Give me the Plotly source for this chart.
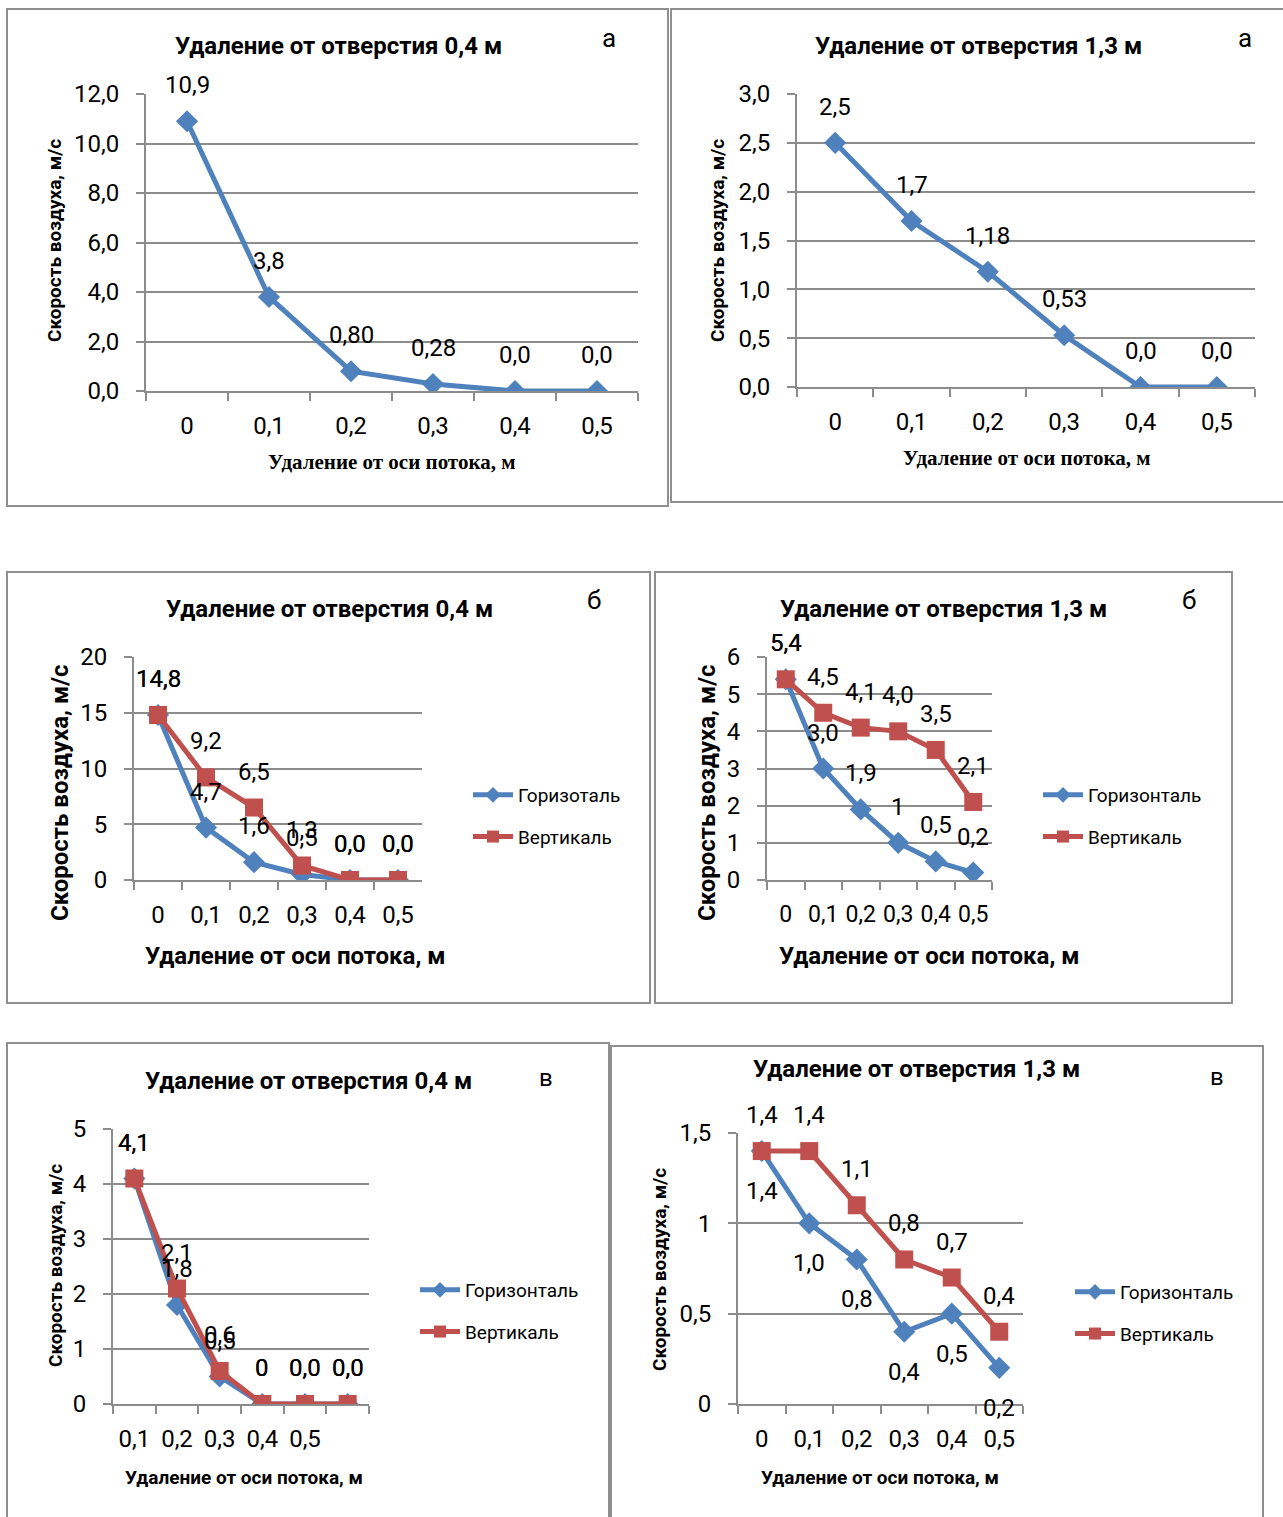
import plotly.graph_objects as go

W, H = 1283, 1517

BLUE = "#4F81BD"
RED = "#C0504D"
GRID = "#8C8C8C"
SANS = "Roboto, 'Noto Sans', sans-serif"
SERIF = "'Liberation Serif', 'DejaVu Serif', serif"

# ---- data ----
x_cats = ["0", "0,1", "0,2", "0,3", "0,4", "0,5"]
x_cats_v1 = ["0,1", "0,2", "0,3", "0,4", "0,5", " "]

a1_speed = [10.9, 3.8, 0.80, 0.28, 0.0, 0.0]
a1_labels = ["10,9", "3,8", "0,80", "0,28", "0,0", "0,0"]
a1_ticks = [0, 2, 4, 6, 8, 10, 12]
a1_ticktext = ["0,0", "2,0", "4,0", "6,0", "8,0", "10,0", "12,0"]

a2_speed = [2.5, 1.7, 1.18, 0.53, 0.0, 0.0]
a2_labels = ["2,5", "1,7", "1,18", "0,53", "0,0", "0,0"]
a2_ticks = [0, 0.5, 1, 1.5, 2, 2.5, 3]
a2_ticktext = ["0,0", "0,5", "1,0", "1,5", "2,0", "2,5", "3,0"]

b1_horiz = [14.8, 4.7, 1.6, 0.5, 0.0, 0.0]
b1_horiz_labels = ["14,8", "4,7", "1,6", "0,5", "0,0", "0,0"]
b1_vert = [14.8, 9.2, 6.5, 1.3, 0.0, 0.0]
b1_vert_labels = ["14,8", "9,2", "6,5", "1,3", "0,0", "0,0"]
b1_ticks = [0, 5, 10, 15, 20]
b1_ticktext = ["0", "5", "10", "15", "20"]

b2_horiz = [5.4, 3.0, 1.9, 1.0, 0.5, 0.2]
b2_horiz_labels = ["5,4", "3,0", "1,9", "1", "0,5", "0,2"]
b2_vert = [5.4, 4.5, 4.1, 4.0, 3.5, 2.1]
b2_vert_labels = ["5,4", "4,5", "4,1", "4,0", "3,5", "2,1"]
b2_ticks = [0, 1, 2, 3, 4, 5, 6]
b2_ticktext = ["0", "1", "2", "3", "4", "5", "6"]

v1_horiz = [4.1, 1.8, 0.5, 0.0, 0.0, 0.0]
v1_horiz_labels = ["4,1", "1,8", "0,5", "0", "0,0", "0,0"]
v1_vert = [4.1, 2.1, 0.6, 0.0, 0.0, 0.0]
v1_vert_labels = ["4,1", "2,1", "0,6", "0", "0,0", "0,0"]
v1_ticks = [0, 1, 2, 3, 4, 5]
v1_ticktext = ["0", "1", "2", "3", "4", "5"]

v2_horiz = [1.4, 1.0, 0.8, 0.4, 0.5, 0.2]
v2_horiz_labels = ["1,4", "1,0", "0,8", "0,4", "0,5", "0,2"]
v2_vert = [1.4, 1.4, 1.1, 0.8, 0.7, 0.4]
v2_vert_labels = ["1,4", "1,4", "1,1", "0,8", "0,7", "0,4"]
v2_ticks = [0, 0.5, 1, 1.5]
v2_ticktext = ["0", "0,5", "1", "1,5"]

title_04 = "Удаление от отверстия 0,4 м"
title_13 = "Удаление от отверстия 1,3 м"
ytitle = "Скорость воздуха, м/с"
xtitle = "Удаление от оси потока, м"


def px(x):
    return x / W


def py(y):
    return 1 - y / H


def text(fig, x, y, s, size, bold=False, family=SANS, angle=0):
    fig.add_annotation(
        x=px(x), y=py(y), xref="paper", yref="paper", text=f"<b>{s}</b>" if bold else s,
        showarrow=False, xanchor="center", yanchor="middle", textangle=angle,
        font=dict(family=family, size=size, color="black"),
    )


def add_box(fig, x0, y0, x1, y1):
    fig.add_shape(type="rect", xref="paper", yref="paper",
                  x0=px(x0), x1=px(x1), y0=py(y1), y1=py(y0),
                  line=dict(color="#8F8F8F", width=2))


def add_axes(fig, n, left, right, top, bottom, ymax, ticks, ticktext, cats,
             tsize=24, xsize=24):
    sfx = "" if n == 1 else str(n)
    fig.layout[f"xaxis{sfx}"] = dict(
        domain=[px(left), px(right)], anchor=f"y{sfx}", type="category",
        categoryorder="array", categoryarray=cats, range=[-0.5, 5.5],
        showline=True, linecolor=GRID, linewidth=2, showgrid=False, zeroline=False,
        ticks="outside", tickson="boundaries", ticklen=8, tickcolor=GRID, tickwidth=2,
        tickangle=0, tickfont=dict(family=SANS, size=xsize, color="black"),
        ticklabelstandoff=12, automargin=False,
    )
    fig.layout[f"yaxis{sfx}"] = dict(
        domain=[py(bottom), py(top)], anchor=f"x{sfx}", range=[0, ymax],
        tickvals=ticks, ticktext=ticktext,
        showline=True, linecolor=GRID, linewidth=2, zeroline=False,
        showgrid=True, gridcolor=GRID, gridwidth=2,
        ticks="outside", ticklen=8, tickcolor=GRID, tickwidth=2,
        tickfont=dict(family=SANS, size=tsize, color="black"), ticklabelstandoff=12,
        automargin=False,
    )


def add_series(fig, n, cats, vals, labels, color, symbol, msize, name=None,
               legend=None, shift=36):
    sfx = "" if n == 1 else str(n)
    fig.add_trace(go.Scatter(
        x=cats, y=vals, mode="lines+markers", name=name or "",
        line=dict(color=color, width=5),
        marker=dict(symbol=symbol, size=msize, color=color),
        xaxis=f"x{sfx}", yaxis=f"y{sfx}", hoverinfo="skip",
        showlegend=legend is not None, legend=legend or "legend",
        legendgroup=f"{n}{name}",
    ))
    for c, v, lab in zip(cats, vals, labels):
        fig.add_annotation(
            x=c, y=v, xref=f"x{sfx}", yref=f"y{sfx}", text=lab, showarrow=False,
            yshift=shift, xanchor="center", yanchor="middle",
            font=dict(family=SANS, size=24, color="black"),
        )


def add_legend(fig, key, x, y):
    fig.layout[key] = dict(
        x=px(x), y=py(y), xanchor="left", yanchor="top", xref="paper", yref="paper",
        font=dict(family=SANS, size=19, color="black"), tracegroupgap=14,
        bgcolor="rgba(0,0,0,0)", itemwidth=40, itemsizing="constant",
    )


fig = go.Figure()

# а, 0,4 м
add_box(fig, 7, 9, 668, 506)
add_axes(fig, 1, 146, 638, 94, 391, 12, a1_ticks, a1_ticktext, x_cats)
add_series(fig, 1, x_cats, a1_speed, a1_labels, BLUE, "diamond", 17)
text(fig, 338, 46, title_04, 24, bold=True)
text(fig, 609, 38, "а", 26)
text(fig, 55, 241, ytitle, 19, bold=True, angle=-90)
text(fig, 392, 462, xtitle, 21, bold=True, family=SERIF)

# а, 1,3 м
add_box(fig, 671, 9, 1290, 502)
add_axes(fig, 2, 797, 1255, 94, 387, 3, a2_ticks, a2_ticktext, x_cats)
add_series(fig, 2, x_cats, a2_speed, a2_labels, BLUE, "diamond", 17)
text(fig, 978, 46, title_13, 24, bold=True)
text(fig, 1245, 38, "а", 26)
text(fig, 718, 241, ytitle, 19, bold=True, angle=-90)
text(fig, 1026, 458, xtitle, 21, bold=True, family=SERIF)

# б, 0,4 м
add_box(fig, 7, 572, 650, 1003)
add_axes(fig, 3, 134, 422, 657, 880, 20, b1_ticks, b1_ticktext, x_cats)
add_series(fig, 3, x_cats, b1_horiz, b1_horiz_labels, BLUE, "diamond", 17,
           "Горизоталь", "legend")
add_series(fig, 3, x_cats, b1_vert, b1_vert_labels, RED, "square", 18,
           "Вертикаль", "legend")
add_legend(fig, "legend", 468, 776)
text(fig, 329, 609, title_04, 24, bold=True)
text(fig, 594, 600, "б", 26)
text(fig, 60, 793, ytitle, 24, bold=True, angle=-90)
text(fig, 295, 956, xtitle, 24, bold=True)

# б, 1,3 м
add_box(fig, 655, 572, 1232, 1003)
add_axes(fig, 4, 767, 992, 657, 880, 6, b2_ticks, b2_ticktext, x_cats, xsize=23)
add_series(fig, 4, x_cats, b2_horiz, b2_horiz_labels, BLUE, "diamond", 17,
           "Горизонталь", "legend2")
add_series(fig, 4, x_cats, b2_vert, b2_vert_labels, RED, "square", 18,
           "Вертикаль", "legend2")
add_legend(fig, "legend2", 1038, 776)
text(fig, 943, 609, title_13, 24, bold=True)
text(fig, 1189, 600, "б", 26)
text(fig, 707, 793, ytitle, 24, bold=True, angle=-90)
text(fig, 929, 956, xtitle, 24, bold=True)

# в, 0,4 м
add_box(fig, 7, 1043, 609, 1530)
add_axes(fig, 5, 113, 369, 1129, 1404, 5, v1_ticks, v1_ticktext, x_cats_v1)
add_series(fig, 5, x_cats_v1, v1_horiz, v1_horiz_labels, BLUE, "diamond", 17,
           "Горизонталь", "legend3")
add_series(fig, 5, x_cats_v1, v1_vert, v1_vert_labels, RED, "square", 18,
           "Вертикаль", "legend3")
add_legend(fig, "legend3", 415, 1271)
text(fig, 308, 1081, title_04, 24, bold=True)
text(fig, 546, 1078, "в", 24)
text(fig, 55, 1266, ytitle, 19, bold=True, angle=-90)
text(fig, 244, 1477, xtitle, 19, bold=True)

# в, 1,3 м
add_box(fig, 611, 1046, 1263, 1530)
add_axes(fig, 6, 738, 1023, 1133, 1404, 1.5, v2_ticks, v2_ticktext, x_cats)
add_series(fig, 6, x_cats, v2_horiz, v2_horiz_labels, BLUE, "diamond", 17,
           "Горизонталь", "legend4", shift=-40)
add_series(fig, 6, x_cats, v2_vert, v2_vert_labels, RED, "square", 18,
           "Вертикаль", "legend4")
add_legend(fig, "legend4", 1070, 1273)
text(fig, 916, 1069, title_13, 24, bold=True)
text(fig, 1217, 1077, "в", 24)
text(fig, 659, 1270, ytitle, 19, bold=True, angle=-90)
text(fig, 880, 1477, xtitle, 19, bold=True)

fig.update_layout(
    width=W, height=H, margin=dict(l=0, r=0, t=0, b=0, autoexpand=False),
    paper_bgcolor="white", plot_bgcolor="white", showlegend=True,
)

# drop the default page margin so the figure sits at the window's corner
fig.write_html(
    "out.html",
    config={"displayModeBar": False},
    post_script="document.body.style.margin='0';"
                "document.documentElement.style.overflow='hidden';",
)
